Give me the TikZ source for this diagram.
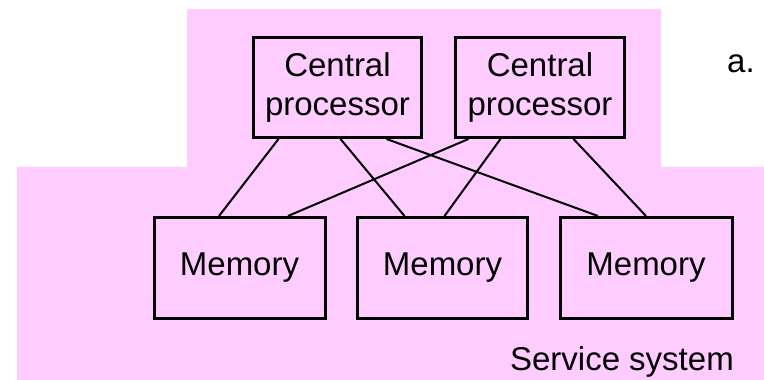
\documentclass[tikz,border=0pt]{standalone}
\usepackage{fontspec}
\setmainfont{Liberation Sans}
\usetikzlibrary{calc}
\definecolor{bgpink}{HTML}{FFCCFF}
\begin{document}
\begin{tikzpicture}[x=1pt,y=-1pt,
  unit/.style={draw=black,line width=3pt,fill=bgpink,inner sep=0pt,
    minimum height=100pt,align=center,font=\fontsize{33}{39}\selectfont},
  link/.style={line width=2pt,black},
  caption/.style={inner sep=0pt,font=\fontsize{33}{39}\selectfont}]
  \useasboundingbox (0,0) rectangle (764,380);
  % stepped background of the service system
  \fill[bgpink] (187,9) -- (661,9) -- (661,167) -- (764,167) -- (764,380)
    -- (17,380) -- (17,167) -- (187,167) -- cycle;

  % processors
  \node[unit,minimum width=168pt] (cp1) at (337.5,87.5) {Central\\processor};
  \node[unit,minimum width=169pt] (cp2) at (540,87.5) {Central\\processor};

  % memories
  \node[unit,minimum width=171pt,minimum height=101pt] (m1) at (239.5,268) {\raisebox{3pt}{Memory}};
  \node[unit,minimum width=170pt,minimum height=101pt] (m2) at (442.5,268) {\raisebox{3pt}{Memory}};
  \node[unit,minimum width=172pt,minimum height=101pt] (m3) at (646,268) {\raisebox{3pt}{Memory}};

  % interconnections
  \draw[link] ([xshift=26.5pt]cp1.south west) -- ([xshift=66.5pt]m1.north west);
  \draw[link] ([xshift=88.5pt]cp1.south west) -- ([xshift=48.5pt]m2.north west);
  \draw[link] ([xshift=134.5pt]cp1.south west) -- ([xshift=39.5pt]m3.north west);
  \draw[link] ([xshift=14.5pt]cp2.south west) -- ([xshift=135.5pt]m1.north west);
  \draw[link] ([xshift=46.5pt]cp2.south west) -- ([xshift=88.5pt]m2.north west);
  \draw[link] ([xshift=119.5pt]cp2.south west) -- ([xshift=87.5pt]m3.north west);

  % labels
  \node[caption,anchor=base east] (sys) at (734,370) {Service system};
  \node[caption,anchor=base west] (tag) at (727,72) {a.};
\end{tikzpicture}
\end{document}
